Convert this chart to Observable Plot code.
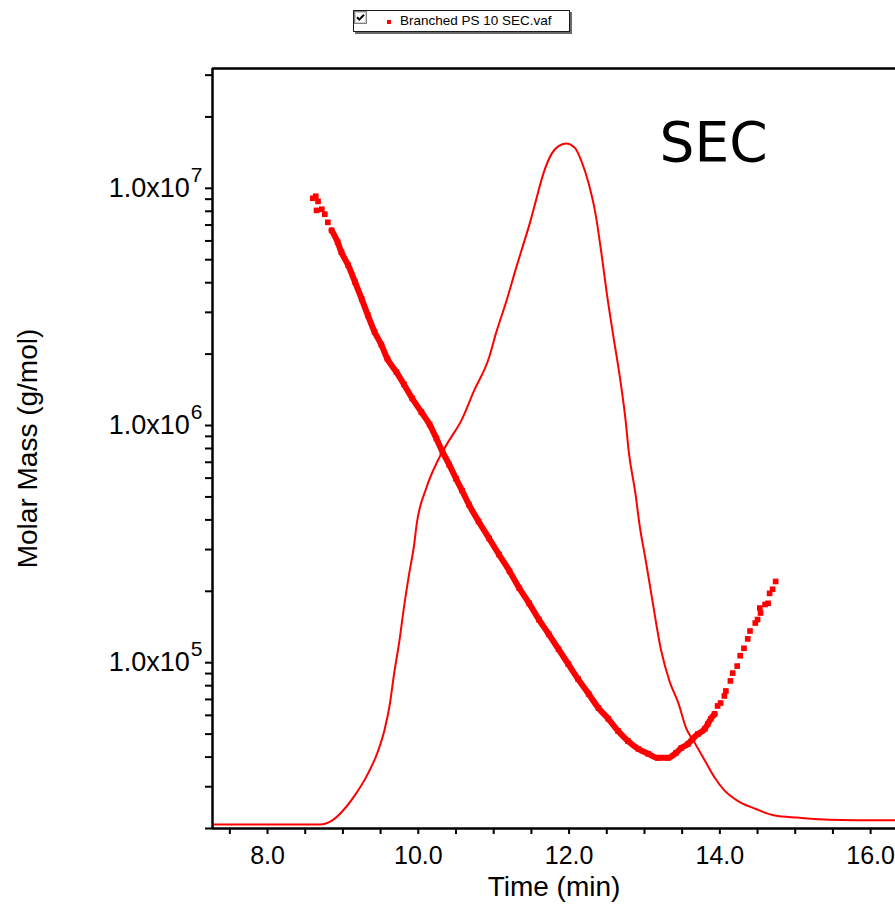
<!DOCTYPE html>
<html>
<head>
<meta charset="utf-8">
<script src="https://cdn.jsdelivr.net/npm/d3@7"></script>
<script src="https://cdn.jsdelivr.net/npm/@observablehq/plot@0.6"></script>
<style>
  body { margin: 0; background: #fff; }
  #chart { position: relative; width: 895px; height: 904px; overflow: hidden; background: #fff;
           font-family: "Liberation Sans", Arial, sans-serif; }
  #chart svg { position: absolute; left: 0; top: 0; }
  .legend { position: absolute; left: 353px; top: 10px; width: 217px; height: 22px; box-sizing: border-box;
            border: 1px solid #1a1a1a; background: #fff; box-shadow: 2px 2px 0 #6a6a6a; }
  .legend .box { position: absolute; left: 6px; top: 5px; }
  .legend .swatch { position: absolute; left: 33px; top: 9px; width: 4px; height: 4px; background: #ff0000; }
  .legend .name { position: absolute; left: 46px; top: 2px; font-size: 13.5px; line-height: 16px; color: #000; white-space: nowrap; }
</style>
</head>
<body>
<div id="chart">
  <div class="legend">
    <svg class="box" width="13" height="13" viewBox="0 0 13 13">
      <rect x="0.5" y="0.5" width="12" height="12" fill="#fff" stroke="#808080"/>
      <rect x="1.5" y="1.5" width="10" height="10" fill="none" stroke="#d4d0c8"/>
      <path d="M3 6.2 L5.3 8.6 L10 3.8" fill="none" stroke="#000" stroke-width="2"/>
    </svg>
    <div class="swatch"></div>
    <div class="name">Branched PS 10 SEC.vaf</div>
  </div>
</div>
<script>
// Light-scattering molar mass across the elution profile
const massTime = [8.60, 8.64, 8.67, 8.65, 8.72, 8.76, 8.80, 8.85, 8.93, 8.98,
  9.07, 9.16, 9.25, 9.33, 9.42, 9.51, 9.59, 9.71, 9.81, 9.92,
  10.04, 10.15, 10.24, 10.32, 10.41, 10.50, 10.58, 10.67, 10.80, 10.94,
  11.07, 11.21, 11.34, 11.47, 11.60, 11.73, 11.86, 11.99, 12.12, 12.26,
  12.39, 12.52, 12.65, 12.78, 12.92, 13.05, 13.18, 13.31, 13.42, 13.49,
  13.58, 13.64, 13.71, 13.80, 13.84, 13.88, 13.93, 13.97, 14.01, 14.06,
  14.08, 14.14, 14.17, 14.23, 14.27, 14.32, 14.37, 14.40, 14.47, 14.50,
  14.54, 14.53, 14.60, 14.64, 14.66, 14.70, 14.74];
const molarMass = [9.08e6, 9.26e6, 8.81e6, 8.07e6, 8.16e6, 7.78e6, 7.19e6, 6.65e6, 5.93e6, 5.38e6,
  4.74e6, 4.03e6, 3.41e6, 2.92e6, 2.48e6, 2.19e6, 1.91e6, 1.68e6, 1.49e6, 1.30e6,
  1.14e6, 1.01e6, 8.81e5, 7.76e5, 6.84e5, 5.97e5, 5.32e5, 4.65e5, 3.94e5, 3.34e5,
  2.86e5, 2.43e5, 2.06e5, 1.78e5, 1.52e5, 1.32e5, 1.14e5, 9.86e4, 8.53e4, 7.38e4,
  6.44e4, 5.80e4, 5.15e4, 4.68e4, 4.33e4, 4.13e4, 3.97e4, 3.97e4, 4.17e4, 4.37e4,
  4.55e4, 4.78e4, 5.01e4, 5.26e4, 5.52e4, 5.80e4, 6.08e4, 6.57e4, 6.76e4, 7.24e4,
  7.60e4, 8.38e4, 9.04e4, 9.68e4, 1.07e5, 1.15e5, 1.26e5, 1.36e5, 1.47e5, 1.52e5,
  1.62e5, 1.70e5, 1.76e5, 1.78e5, 1.96e5, 2.04e5, 2.20e5];

// Concentration detector trace (relative response, peak = 1)
const traceTime = [7.27, 8.43, 8.69, 8.86, 8.99, 9.16, 9.32, 9.46, 9.55, 9.62,
  9.68, 9.75, 9.81, 9.88, 9.94, 9.98, 10.11, 10.28, 10.41, 10.57,
  10.74, 10.94, 11.03, 11.17, 11.30, 11.38, 11.49, 11.56, 11.66, 11.77,
  11.86, 11.96, 12.08, 12.16, 12.26, 12.35, 12.43, 12.50, 12.59, 12.68,
  12.75, 12.79, 12.88, 12.94, 13.01, 13.09, 13.22, 13.33, 13.45, 13.55,
  13.67, 13.80, 13.93, 14.06, 14.23, 14.47, 14.73, 15.03, 15.46, 16.33];
const traceSignal = [0, 0, 0, 0.006, 0.019, 0.043, 0.072, 0.106, 0.138, 0.175,
  0.222, 0.270, 0.319, 0.369, 0.407, 0.442, 0.495, 0.539, 0.564, 0.593,
  0.637, 0.686, 0.721, 0.769, 0.818, 0.847, 0.887, 0.916, 0.956, 0.985,
  0.996, 1.000, 0.993, 0.975, 0.941, 0.897, 0.838, 0.780, 0.715, 0.652,
  0.593, 0.549, 0.486, 0.436, 0.392, 0.339, 0.256, 0.211, 0.178, 0.142,
  0.119, 0.094, 0.069, 0.050, 0.035, 0.023, 0.013, 0.010, 0.007, 0.006];

// Axis ticks and labels
const timeDomain = [7.27, 16.33];
const massDomain = [2e4, 3.2e7];
const signalDomain = [-0.006, 1.11];
const timeTicks = [7.5, 8, 8.5, 9, 9.5, 10, 10.5, 11, 11.5, 12, 12.5, 13, 13.5, 14, 14.5, 15, 15.5, 16];
const timeLabels = [8, 10, 12, 14, 16];
const massDecades = [1e5, 1e6, 1e7];
const xTitle = "Time (min)";
const yTitle = "Molar Mass (g/mol)";
const plotTitle = "SEC";

const red = "#ff0000";
const font = "'Liberation Sans', Arial, sans-serif";
const W = 895, H = 904;
const margins = { marginTop: 68, marginBottom: 76, marginLeft: 212, marginRight: 0 };

const massRows = massTime.map((t, i) => ({ t, m: molarMass[i] }));
const traceRows = traceTime.map((t, i) => ({ t, s: traceSignal[i] }));
// dense part of the scatter reads as a continuous band
const bandRows = massRows.filter((d) => d.t >= 8.85 && d.t <= 13.95).sort((a, b) => a.t - b.t);

// Log minor ticks: 1..9 within each decade that falls in the domain
const massTicks = [];
for (let e = 4; e <= 7; e++) {
  for (let k = 1; k <= 9; k++) {
    const v = k * Math.pow(10, e);
    if (v >= massDomain[0] * 0.999 && v <= massDomain[1]) massTicks.push(v);
  }
}
const massLabel = (d) => {
  const hit = massDecades.find((v) => Math.abs(v - d) / v < 1e-9);
  return hit ? `1.0x10^${Math.round(Math.log10(hit))}` : "";
};

// Detector trace on its own linear scale, drawn underneath
const traceChart = Plot.plot({
  width: W, height: H, ...margins,
  style: { background: "transparent" },
  x: { domain: timeDomain, axis: null },
  y: { domain: signalDomain, axis: null },
  marks: [
    Plot.line(traceRows, { x: "t", y: "s", stroke: red, strokeWidth: 2, curve: "monotone-x", clip: true })
  ]
});

// Molar mass chart with axes and frame
const massChart = Plot.plot({
  width: W, height: H, ...margins,
  style: { background: "transparent", fontFamily: font, fontSize: "27px", color: "#000" },
  x: { domain: timeDomain },
  y: { type: "log", domain: massDomain },
  marks: [
    Plot.line(bandRows, { x: "t", y: "m", stroke: red, strokeWidth: 6, curve: "monotone-x" }),
    Plot.dot(massRows, { x: "t", y: "m", symbol: "square", r: 3.2, fill: red, stroke: null }),
    Plot.axisX({ ticks: timeTicks, tickFormat: (d) => (timeLabels.includes(d) ? d.toFixed(1) : ""),
      tickSize: 6, tickPadding: 12, strokeWidth: 2, label: null, fontSize: 25, fill: "#000" }),
    Plot.axisY({ ticks: massTicks, tickFormat: massLabel, tickSize: 7, tickPadding: 3,
      strokeWidth: 2, label: null, fontSize: 27, fill: "#000" }),
    Plot.ruleX([timeDomain[0]], { stroke: "#000", strokeWidth: 2.5 }),
    Plot.ruleY([massDomain[0]], { stroke: "#000", strokeWidth: 2.5 }),
    Plot.ruleY([massDomain[1]], { stroke: "#000", strokeWidth: 2.5 }),
    Plot.text([yTitle], { frameAnchor: "left", dx: -184, rotate: -90, fontSize: 28, fill: "#000",
      textAnchor: "middle", lineAnchor: "middle" }),
    Plot.text([xTitle], { frameAnchor: "bottom", dy: 59, fontSize: 28, fill: "#000", lineAnchor: "middle" }),
    Plot.text([plotTitle], { x: [13.20], y: [1.31e7], text: (d) => d, textAnchor: "start", lineAnchor: "bottom",
      fontSize: 55, fontFamily: "'DejaVu Sans', Verdana, sans-serif", fill: "#000" })
  ]
});

// Superscript exponents on the decade labels
const ns = "http://www.w3.org/2000/svg";
massChart.querySelectorAll("text").forEach((t) => {
  const s = t.textContent;
  if (s.includes("^")) {
    const [base, exp] = s.split("^");
    t.textContent = "";
    const a = document.createElementNS(ns, "tspan");
    a.textContent = base;
    const b = document.createElementNS(ns, "tspan");
    b.textContent = exp;
    b.setAttribute("dy", "-0.72em");
    b.setAttribute("font-size", "21px");
    b.setAttribute("dx", "1");
    t.append(a, b);
  }
});

const root = document.getElementById("chart");
root.prepend(massChart);
root.prepend(traceChart);
</script>
</body>
</html>
